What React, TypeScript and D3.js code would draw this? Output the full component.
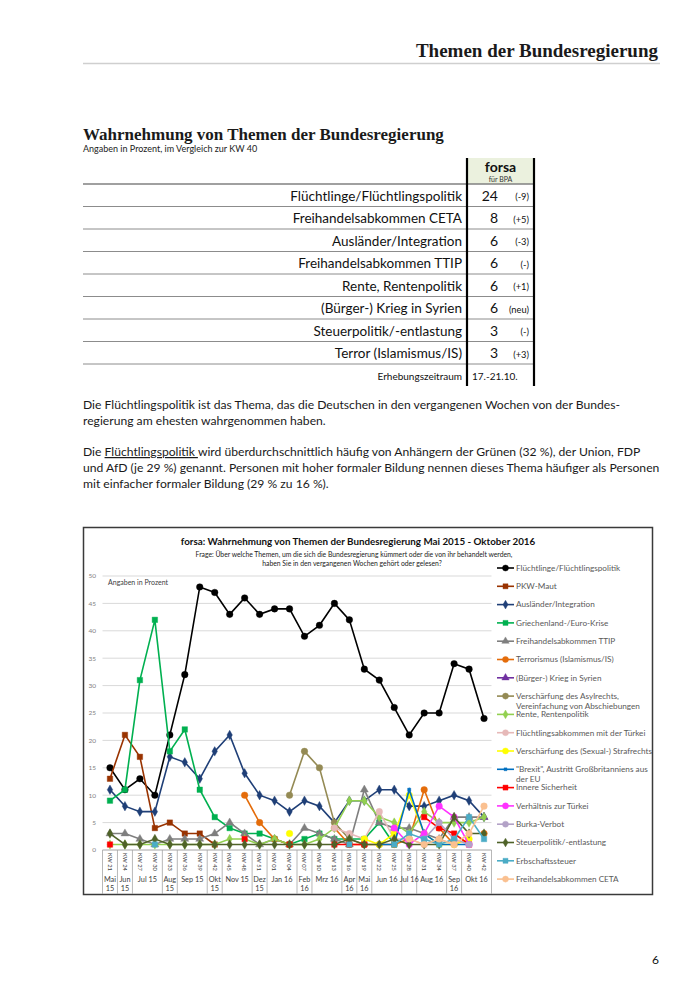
import React from "react";
import * as d3 from "d3";

// ---------- DATA ----------
const tableTopics = [
  "Flüchtlinge/Flüchtlingspolitik",
  "Freihandelsabkommen CETA",
  "Ausländer/Integration",
  "Freihandelsabkommen TTIP",
  "Rente, Rentenpolitik",
  "(Bürger-) Krieg in Syrien",
  "Steuerpolitik/-entlastung",
  "Terror (Islamismus/IS)",
];
const tableValues = [24, 8, 6, 6, 6, 6, 3, 3];
const tableChanges = ["(-9)", "(+5)", "(-3)", "(-)", "(+1)", "(neu)", "(-)", "(+3)"];

const categories = [
  "KW 21", "KW 24", "KW 27", "KW 30", "KW 33", "KW 36", "KW 39", "KW 42", "KW 45", "KW 48",
  "KW 51", "KW 01", "KW 04", "KW 07", "KW 10", "KW 13", "KW 16", "KW 19", "KW 22", "KW 25",
  "KW 28", "KW 31", "KW 34", "KW 37", "KW 40", "KW 42",
];
const monthLabels = [
  "Mai\n15", "Jun\n15", "Jul 15", "Aug\n15", "Sep 15", "Okt\n15", "Nov 15", "Dez\n15", "Jan 16",
  "Feb\n16", "Mrz 16", "Apr\n16", "Mai\n16", "Jun 16", "Jul 16", "Aug 16", "Sep\n16", "Okt 16",
];
const monthSpans = [1, 1, 2, 1, 2, 1, 2, 1, 2, 1, 2, 1, 1, 2, 1, 2, 1, 2];
const yTicks = [0, 5, 10, 15, 20, 25, 30, 35, 40, 45, 50];

const _ = null;
const fluechtlinge = [15, 11, 13, 10, 21, 32, 48, 47, 43, 46, 43, 44, 44, 39, 41, 45, 42, 33, 31, 26, 21, 25, 25, 34, 33, 24];
const pkwMaut = [13, 21, 17, 4, 5, 3, 3, 1, _, _, _, _, _, _, _, _, _, _, _, _, _, _, _, _, _, _];
const auslaender = [11, 8, 7, 7, 17, 16, 13, 18, 21, 14, 10, 9, 7, 9, 8, 5, 9, 9, 11, 11, 8, 8, 9, 10, 9, 6];
const griechenland = [9, 11, 31, 42, 18, 22, 11, 6, 4, 3, 3, 2, 1, 2, 3, 2, 2, 2, 5, 1, _, _, _, _, _, _];
const ttip = [3, 3, 2, 1, 2, 2, 2, 3, 5, 3, 1, 2, 1, 4, 3, 2, 1, 11, 5, 4, 4, 3, 2, 6, 6, 6];
const terrorismus = [_, _, _, _, _, _, _, _, _, 10, 5, 2, 1, _, _, 4, 1, 1, 1, 1, 2, 11, 4, 1, _, 3];
const syrien = [_, _, _, _, _, _, _, _, _, _, _, _, _, _, _, _, _, _, _, _, _, _, _, _, _, 6];
const asylrecht = [_, _, _, _, _, _, _, _, _, _, _, _, 10, 18, 15, 5, 2, 1, _, _, _, _, _, _, _, _];
const rente = [1, 1, 1, 1, 1, 1, 1, 1, 2, 2, 1, 2, 1, 1, 2, 4, 9, 9, 6, 5, 3, 7, 5, 5, 5, 6];
const abkommenTuerkei = [_, _, _, _, _, _, _, _, _, _, _, _, _, _, _, 4, 3, 2, 7, 2, 2, 1, 2, 1, _, _];
const strafrecht = [_, _, _, _, _, _, _, _, _, _, _, _, 3, _, _, _, _, 2, 1, 3, 10, 3, 1, 1, 2, _];
const brexit = [_, _, _, _, _, _, _, _, _, _, _, _, _, _, _, _, _, _, 1, 1, 11, 3, 1, 1, 1, _];
const innereSicherheit = [1, _, _, _, _, _, _, _, _, 2, _, _, 1, _, _, 1, 1, 1, _, _, _, 6, 4, 3, 1, _];
const verhaeltnisTuerkei = [_, _, _, _, _, _, _, _, _, _, _, _, _, _, _, _, _, _, _, 4, 1, 3, 8, 6, 1, _];
const burka = [_, _, _, _, _, _, _, _, _, _, _, _, _, _, _, _, _, _, _, _, _, 2, 5, 2, 1, _];
const steuer = [3, 1, 1, 2, 1, 1, 1, 1, 1, 1, 1, 1, 1, 1, 1, 1, 2, 1, 1, 2, 1, 1, 1, 6, 3, 3];
const erbschaft = [_, _, _, 1, _, _, _, _, _, _, _, _, _, _, _, _, 1, _, _, 1, 3, 2, 1, 2, 6, 2];
const ceta = [_, _, _, _, _, _, _, _, _, _, _, _, _, _, _, _, _, _, _, _, 2, 1, 2, 1, 3, 8];

type Marker = "circle" | "square" | "diamond" | "triangle" | "dash";
const series: { name: string; values: (number | null)[]; color: string; marker: Marker }[] = [
  { name: "Flüchtlinge/Flüchtlingspolitik", values: fluechtlinge, color: "#000000", marker: "circle" },
  { name: "PKW-Maut", values: pkwMaut, color: "#993300", marker: "square" },
  { name: "Ausländer/Integration", values: auslaender, color: "#1f3f77", marker: "diamond" },
  { name: "Griechenland-/Euro-Krise", values: griechenland, color: "#00b050", marker: "square" },
  { name: "Freihandelsabkommen TTIP", values: ttip, color: "#7f7f7f", marker: "triangle" },
  { name: "Terrorismus (Islamismus/IS)", values: terrorismus, color: "#e46c0a", marker: "circle" },
  { name: "(Bürger-) Krieg in Syrien", values: syrien, color: "#7030a0", marker: "triangle" },
  { name: "Verschärfung des Asylrechts,\nVereinfachung von Abschiebungen", values: asylrecht, color: "#948a54", marker: "circle" },
  { name: "Rente, Rentenpolitik", values: rente, color: "#92d050", marker: "diamond" },
  { name: "Flüchtlingsabkommen mit der Türkei", values: abkommenTuerkei, color: "#e6b9b8", marker: "circle" },
  { name: "Verschärfung des (Sexual-) Strafrechts", values: strafrecht, color: "#ffff00", marker: "circle" },
  { name: "\"Brexit\", Austritt Großbritanniens aus\nder EU", values: brexit, color: "#0070c0", marker: "dash" },
  { name: "Innere Sicherheit", values: innereSicherheit, color: "#ff0000", marker: "square" },
  { name: "Verhältnis zur Türkei", values: verhaeltnisTuerkei, color: "#ff33ff", marker: "circle" },
  { name: "Burka-Verbot", values: burka, color: "#b3a2c7", marker: "circle" },
  { name: "Steuerpolitik/-entlastung", values: steuer, color: "#4f6228", marker: "diamond" },
  { name: "Erbschaftssteuer", values: erbschaft, color: "#4bacc6", marker: "square" },
  { name: "Freihandelsabkommen CETA", values: ceta, color: "#fac090", marker: "circle" },
];

// ---------- LAYOUT ----------
const SANS = "Lato, 'Open Sans', sans-serif";
const SERIF = "'Liberation Serif', 'DejaVu Serif', serif";

const x = d3.scalePoint<string>().domain(categories.map((c, i) => String(i))).range([102.5, 491.5]).padding(0.5);
const y = d3.scaleLinear().domain([0, 50]).range([850, 576]);
const step = x.step();

const symbolType: Record<Marker, d3.SymbolType> = {
  circle: d3.symbolCircle,
  square: d3.symbolSquare,
  diamond: d3.symbolDiamond,
  triangle: d3.symbolTriangle,
  dash: d3.symbolSquare,
};
const symbolSize: Record<Marker, number> = { circle: 34, square: 30, diamond: 26, triangle: 28, dash: 10 };

function MarkerShape({ m, color, cx, cy, scale = 1 }: { m: Marker; color: string; cx: number; cy: number; scale?: number }) {
  const d = d3.symbol().type(symbolType[m]).size(symbolSize[m] * scale)() || "";
  return <path d={d} transform={`translate(${cx},${cy})`} fill={color} stroke={color} strokeWidth={0.4} />;
}

export default function App() {
  const line = d3
    .line<number | null>()
    .defined((d) => d !== null)
    .x((_d, i) => x(String(i)) as number)
    .y((d) => y(d as number));

  // month group boundaries
  const bounds: number[] = [102.5];
  let acc = 0;
  monthSpans.forEach((s) => {
    acc += s;
    bounds.push(102.5 + acc * step);
  });

  const rowY = (i: number) => 184 + i * 22.5;

  return (
    <svg width={700} height={990} style={{ position: "absolute", left: 0, top: 0, background: "#fff" }} fontFamily={SANS}>
      {/* Header */}
      <text x={658} y={57} textAnchor="end" fontFamily={SERIF} fontWeight="bold" fontSize={19} fill="#1a1a1a">
        Themen der Bundesregierung
      </text>
      <line x1={83} x2={660} y1={63.5} y2={63.5} stroke="#cfcfcf" strokeWidth={1.5} />

      {/* Section title */}
      <text x={83} y={140} fontFamily={SERIF} fontWeight="bold" fontSize={17} fill="#1a1a1a">
        Wahrnehmung von Themen der Bundesregierung
      </text>
      <text x={83} y={152} fontSize={9} fill="#222">Angaben in Prozent, im Vergleich zur KW 40</text>

      {/* Table */}
      <rect x={467} y={158} width={67} height={26} fill="#ebf1de" />
      <text x={500.5} y={172} textAnchor="middle" fontWeight="bold" fontSize={14} fill="#111">forsa</text>
      <text x={500.5} y={182} textAnchor="middle" fontSize={7} fill="#333">für BPA</text>
      <line x1={83} x2={534} y1={184} y2={184} stroke="#808080" strokeWidth={1.6} />
      {tableTopics.map((t, i) => (
        <g key={t}>
          <text x={462} y={rowY(i) + 16.5} textAnchor="end" fontSize={13.5} fill="#111">{t}</text>
          <text x={498} y={rowY(i) + 16.5} textAnchor="end" fontSize={14} fill="#111">{tableValues[i]}</text>
          <text x={529} y={rowY(i) + 16} textAnchor="end" fontSize={9.3} fill="#111">{tableChanges[i]}</text>
          <line x1={83} x2={534} y1={rowY(i + 1)} y2={rowY(i + 1)} stroke="#8c8c8c" strokeWidth={1} />
        </g>
      ))}
      <text x={462} y={380} textAnchor="end" fontSize={10} fill="#111">Erhebungszeitraum</text>
      <text x={472} y={380} fontSize={10} fill="#111">17.-21.10.</text>
      <line x1={467} x2={467} y1={158} y2={386} stroke="#000" strokeWidth={2.2} />
      <line x1={534} x2={534} y1={158} y2={386} stroke="#000" strokeWidth={2.2} />

      {/* Paragraphs */}
      <g fontSize={12.15} fill="#1a1a1a">
        <text x={83} y={409}>Die Flüchtlingspolitik ist das Thema, das die Deutschen in den vergangenen Wochen von der Bundes-</text>
        <text x={83} y={425}>regierung am ehesten wahrgenommen haben.</text>
        <text x={83} y={456}>
          Die <tspan textDecoration="underline">Flüchtlingspolitik </tspan>wird überdurchschnittlich häufig von Anhängern der Grünen (32 %), der Union, FDP
        </text>
        <text x={83} y={472}>und AfD (je 29 %) genannt. Personen mit hoher formaler Bildung nennen dieses Thema häufiger als Personen</text>
        <text x={83} y={488}>mit einfacher formaler Bildung (29 % zu 16 %).</text>
      </g>

      {/* Chart frame */}
      <rect x={83.5} y={527.5} width={569} height={367} fill="#fff" stroke="#3a3a3a" strokeWidth={1.5} />
      <text x={358} y={545} textAnchor="middle" fontWeight="bold" fontSize={9.8} fill="#111">
        forsa: Wahrnehmung von Themen der Bundesregierung Mai 2015 - Oktober 2016
      </text>
      <text x={354} y={556.5} textAnchor="middle" fontSize={6.8} fill="#222">
        Frage: Über welche Themen, um die sich die Bundesregierung kümmert oder die von ihr behandelt werden,
      </text>
      <text x={352} y={566} textAnchor="middle" fontSize={6.8} fill="#222">
        haben Sie in den vergangenen Wochen gehört oder gelesen?
      </text>

      {/* Grid and y axis */}
      {yTicks.map((t) => (
        <g key={t}>
          <line x1={102.5} x2={491.5} y1={y(t)} y2={y(t)} stroke={t === 0 ? "#a6a6a6" : "#d9d9d9"} strokeWidth={1} />
          <text x={96} y={y(t) + 2.3} textAnchor="end" fontSize={6.5} fill="#7f7f7f">{t}</text>
        </g>
      ))}
      <text x={108} y={585} fontSize={7} fill="#404040">Angaben in Prozent</text>

      {/* X axis categories */}
      {categories.map((c, i) => (
        <text
          key={i}
          transform={`translate(${(x(String(i)) as number) - 2.2},853) rotate(90)`}
          fontSize={5.8}
          fill="#404040"
        >
          {c}
        </text>
      ))}
      {bounds.map((b, i) => (
        <line key={i} x1={b} x2={b} y1={850} y2={894} stroke="#a6a6a6" strokeWidth={0.8} />
      ))}
      {monthLabels.map((m, i) => {
        const cx = (bounds[i] + bounds[i + 1]) / 2;
        const parts = m.split("\n");
        return (
          <text key={i} x={cx} textAnchor="middle" fontSize={7.3} fill="#404040">
            {parts.map((p, k) => (
              <tspan key={k} x={cx} y={882 + k * 9}>{p}</tspan>
            ))}
          </text>
        );
      })}

      {/* Series */}
      {series.map((s) => (
        <g key={s.name}>
          <path d={line(s.values) || ""} fill="none" stroke={s.color} strokeWidth={1.6} />
          {s.values.map((v, i) =>
            v === null ? null : (
              <MarkerShape key={i} m={s.marker} color={s.color} cx={x(String(i)) as number} cy={y(v)} />
            )
          )}
        </g>
      ))}

      {/* Legend */}
      {series.map((s, i) => {
        const ly = 568 + i * 18.3;
        const parts = s.name.split("\n");
        return (
          <g key={s.name}>
            <line x1={497} x2={514} y1={ly} y2={ly} stroke={s.color} strokeWidth={1.6} />
            <MarkerShape m={s.marker} color={s.color} cx={505.5} cy={ly} scale={0.85} />
            <text x={516} fontSize={8.2} fill="#595959">
              {parts.map((p, k) => (
                <tspan key={k} x={516} y={ly + 2.8 + k * 10}>{p}</tspan>
              ))}
            </text>
          </g>
        );
      })}

      {/* Page number */}
      <text x={659} y={964} textAnchor="end" fontSize={12} fill="#111">6</text>
    </svg>
  );
}
